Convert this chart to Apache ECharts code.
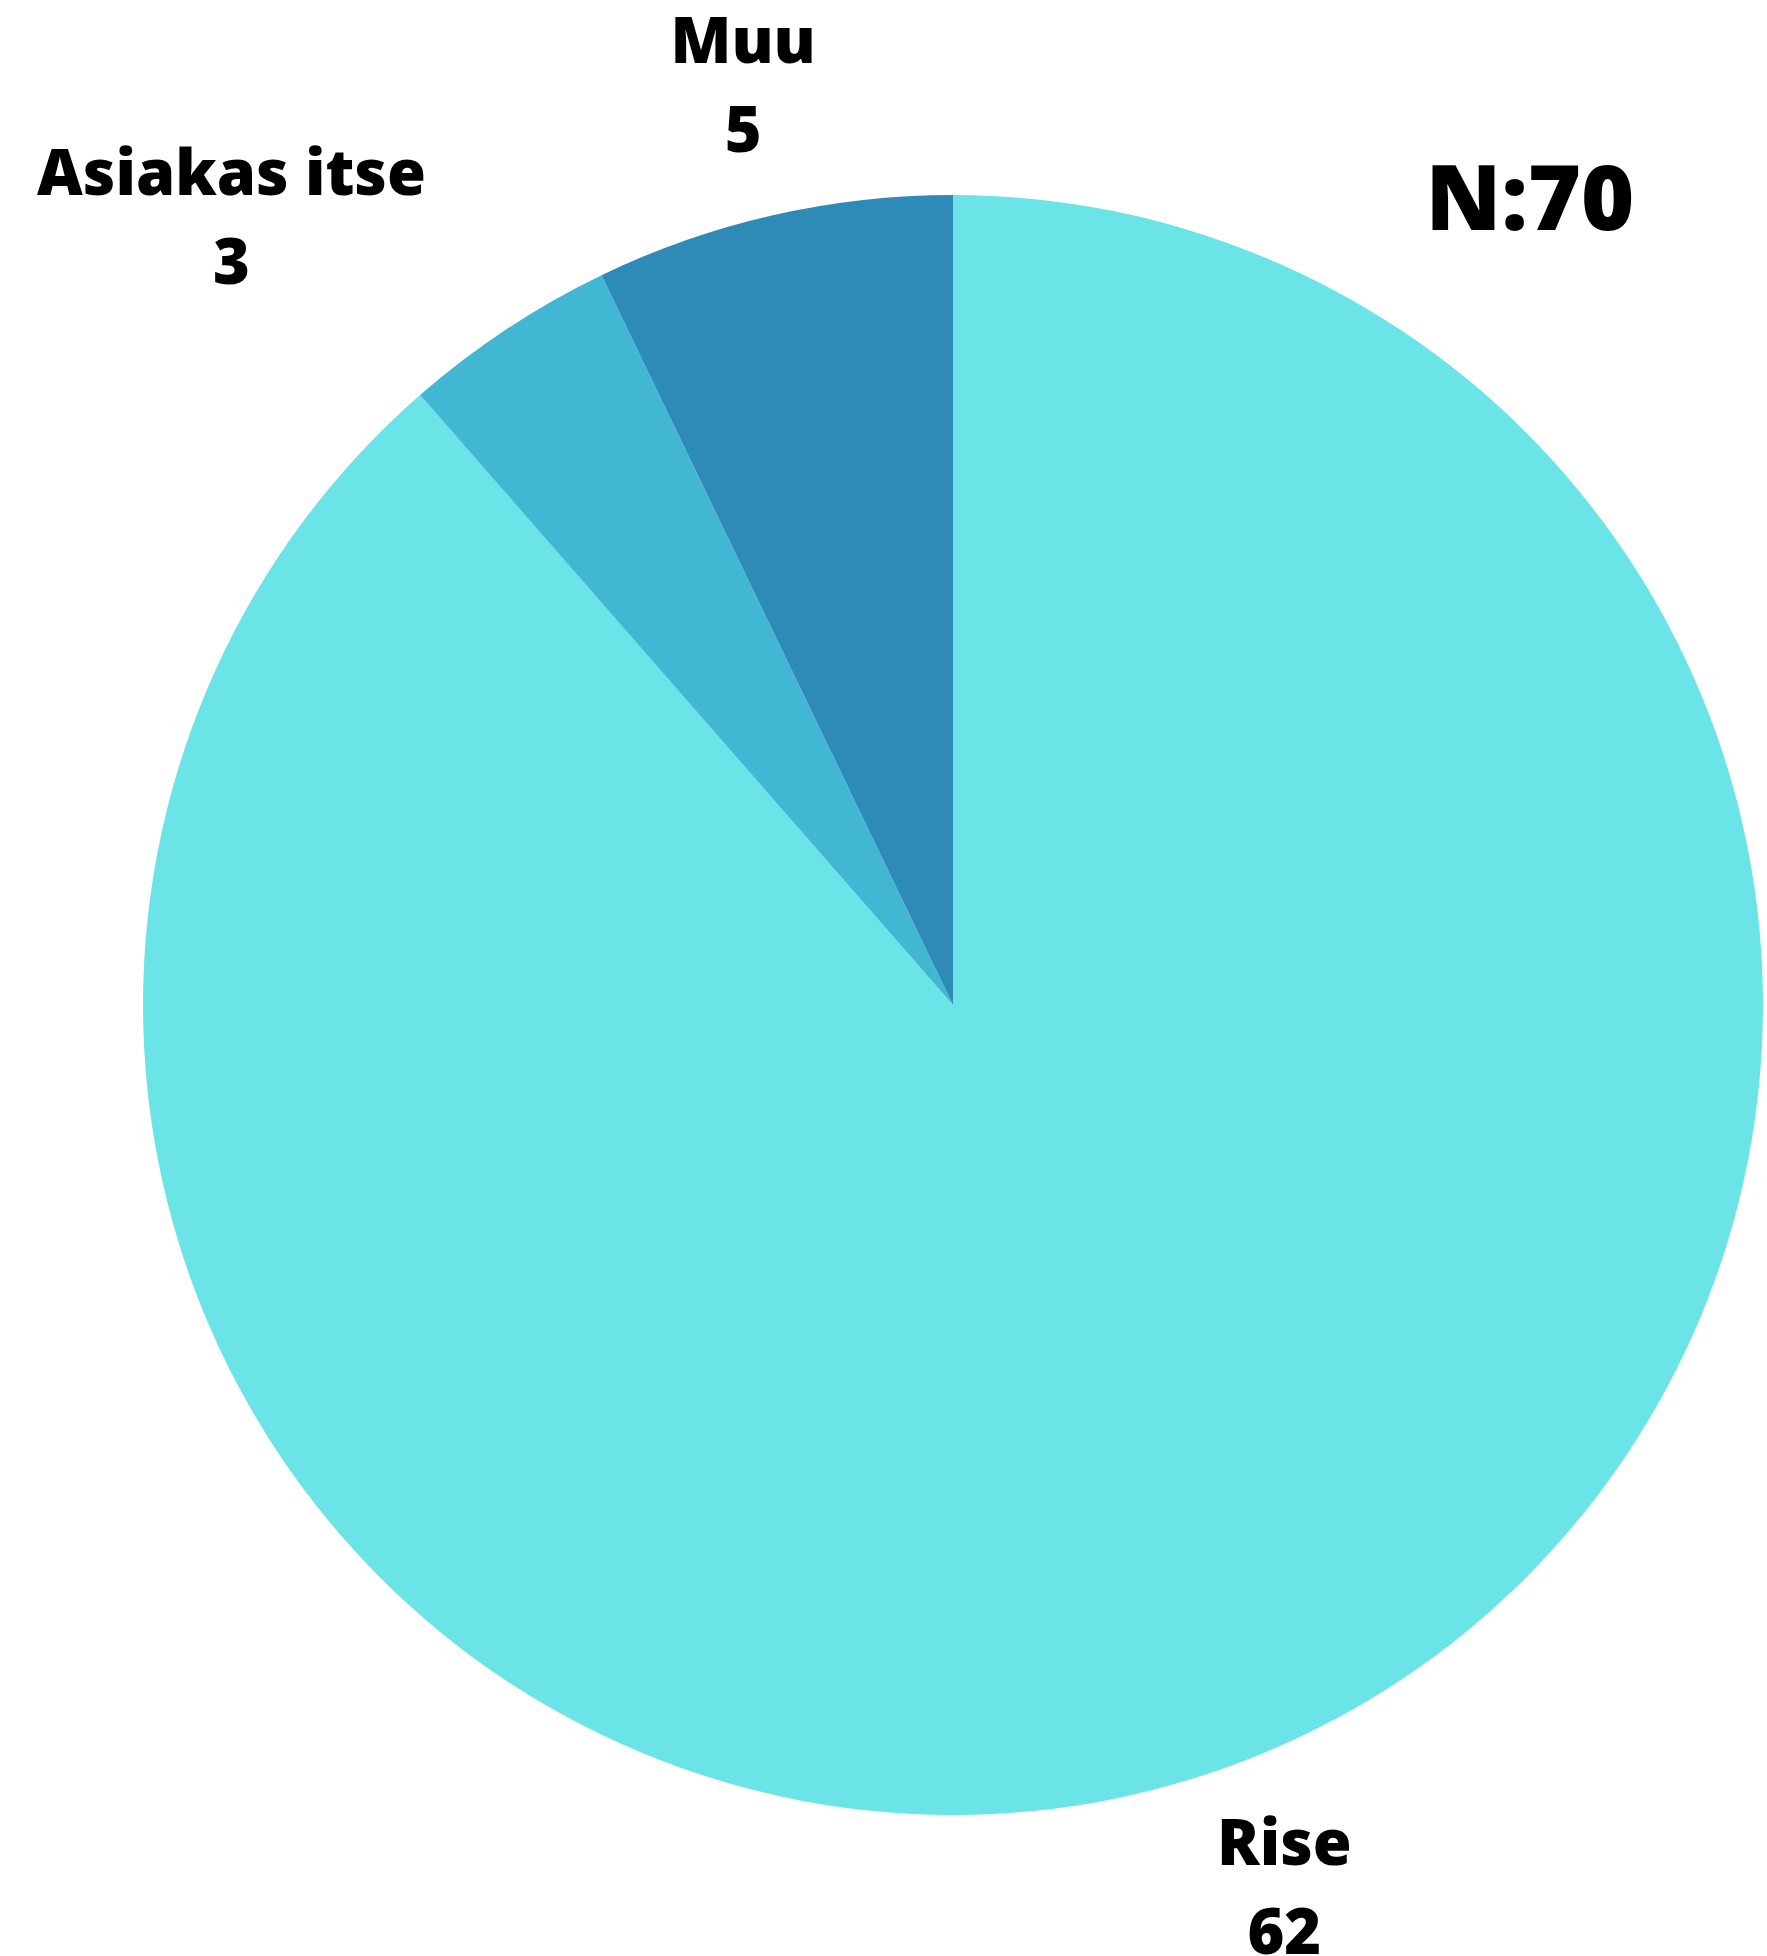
<!DOCTYPE html>
<html>
<head>
<meta charset="utf-8">
<script src="https://cdn.jsdelivr.net/npm/echarts@6/dist/echarts.min.js"></script>
<style>
html,body{margin:0;padding:0;background:#fff;}
#chart{width:1767px;height:1956px;}
</style>
</head>
<body>
<div id="chart"></div>
<script>
const categories = ['Rise', 'Asiakas itse', 'Muu'];
const values = [62, 3, 5];
const totalLabel = 'N:70';

const colors = ['#6ae4e7', '#42b7d4', '#2e8bb8'];
const CX = 953, CY = 1005, R = 810;
const labelDist = 943;
const labelShiftX = [0, -202, 0];
const labelShiftY = 4;

const total = values.reduce((a, b) => a + b, 0);
const midAngles = [];
let cum = 0;
values.forEach(v => { midAngles.push((cum + v / 2) / total * 2 * Math.PI); cum += v; });

const chart = echarts.init(document.getElementById('chart'), null, {renderer: 'canvas'});
const FONT = '"Open Sans", "Noto Sans", sans-serif';
chart.setOption({
  animation: false,
  backgroundColor: '#ffffff',
  title: {
    text: totalLabel,
    left: 1525,
    top: 154,
    textAlign: 'center',
    textStyle: {fontFamily: FONT, fontSize: 91, fontWeight: 800, color: '#000'}
  },
  series: [{
    type: 'pie',
    center: [CX, CY],
    radius: R,
    startAngle: 90,
    clockwise: true,
    avoidLabelOverlap: false,
    itemStyle: {borderWidth: 0},
    emphasis: {disabled: true},
    label: {
      show: true,
      position: 'outside',
      formatter: p => '{n|' + p.name + '}\n{n|' + p.value + '}',
      rich: {
        n: {fontFamily: FONT, fontSize: 63, fontWeight: 800, color: '#000', lineHeight: 89, align: 'center'}
      }
    },
    labelLine: {show: false},
    labelLayout: function (params) {
      const i = params.dataIndex;
      const a = midAngles[i];
      return {
        x: CX + labelDist * Math.sin(a) + labelShiftX[i],
        y: CY - labelDist * Math.cos(a) + labelShiftY,
        align: 'center',
        verticalAlign: 'middle',
        hideOverlap: false,
        moveOverlap: null
      };
    },
    data: categories.map((c, i) => ({name: c, value: values[i], itemStyle: {color: colors[i]}}))
  }]
});
</script>
</body>
</html>
